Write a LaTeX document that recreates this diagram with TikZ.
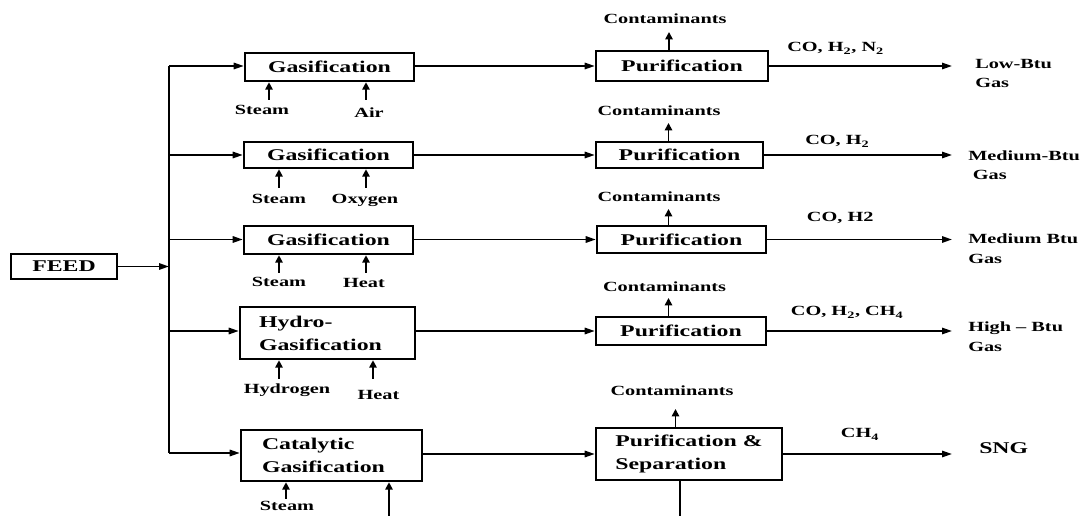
\documentclass[tikz,border=0pt]{standalone}
\usepackage{fontspec}
\setmainfont{Liberation Serif}[FakeStretch=1.45]
\usetikzlibrary{arrows.meta}

\begin{document}
\begin{tikzpicture}[x=0.75pt,y=-0.75pt,
  box/.style={draw, line width=1.9pt, inner sep=0pt, align=center,
    font=\fontsize{12.3}{17.25}\selectfont\bfseries},
  lbl/.style={inner sep=0pt, font=\fontsize{10.5}{14.5}\selectfont\bfseries},
  prod/.style={lbl, align=left, anchor=north west},
  flow/.style={line width=1.3pt, -{Triangle[length=7.5pt,width=4.8pt]}},
  feedarr/.style={line width=1.3pt, -{Triangle[length=5.5pt,width=5.5pt]}},
  plain/.style={line width=1.3pt},
  busline/.style={line width=1.8pt}]

\useasboundingbox (0,0) rectangle (1082,516);

% feed and distribution bus
\node[box, minimum width=79.5pt, minimum height=18.75pt] (feed) at (64,266.5) {FEED};
\coordinate (b0) at (169,266.5);
\coordinate (b1) at (169,66);
\coordinate (b2) at (169,155);
\coordinate (b3) at (169,239.5);
\coordinate (b4) at (169,331);
\coordinate (b5) at (169,453);
\draw[busline] (b1) -- (b5);
\draw[flow] (feed) -- (b0);

% gasifiers
\node[box, minimum width=126.75pt, minimum height=21pt] (g1) at (329.5,67) {Gasification};
\node[box, minimum width=126.75pt, minimum height=19.5pt] (g2) at (328.5,155) {Gasification};
\node[box, minimum width=126.75pt, minimum height=21pt] (g3) at (328.5,240) {Gasification};
\node[box, align=left, text width=102.75pt, inner xsep=14.25pt, minimum height=39pt] (g4) at (327.5,333) {Hydro-\\Gasification};
\node[box, align=left, text width=104.25pt, inner xsep=15.75pt, minimum height=38.25pt] (g5) at (331.5,455.5) {Catalytic\\Gasification};

% purification units
\node[box, minimum width=129pt, minimum height=22.5pt] (p1) at (682,66) {Purification};
\node[box, minimum width=125.25pt, minimum height=19.5pt] (p2) at (679.5,155) {Purification};
\node[box, minimum width=126.75pt, minimum height=20.25pt] (p3) at (681.5,239.5) {Purification};
\node[box, minimum width=127.5pt, minimum height=21pt] (p4) at (681,331) {Purification};
\node[box, align=left, minimum width=139.5pt, minimum height=39pt] (p5) at (689,454) {Purification \&\\Separation};

% bus to gasifiers
\foreach \i in {1,...,5} {
  \draw[flow] (b\i) -- (g\i.west |- b\i);
  \draw[flow] (g\i.east |- p\i) -- (p\i.west);
}

% feed streams into the gasifiers
\node[lbl, anchor=base] (st1) at (262,114.5) {Steam};
\node[lbl, anchor=base] (air1) at (369,117.5) {Air};
\node[lbl, anchor=base] (st2) at (279,203.5) {Steam};
\node[lbl, anchor=base] (ox2) at (365,203.5) {Oxygen};
\node[lbl, anchor=base] (st3) at (279,286.5) {Steam};
\node[lbl, anchor=base] (ht3) at (364,287.5) {Heat};
\node[lbl, anchor=base] (hy4) at (287,394) {Hydrogen};
\node[lbl, anchor=base] (ht4) at (378.5,399.7) {Heat};
\node[lbl, anchor=base] (st5) at (287,511) {Steam};

\coordinate (i1a) at (269,100);  \coordinate (i1b) at (366,100);
\coordinate (i2a) at (279,188);  \coordinate (i2b) at (366,188);
\coordinate (i3a) at (279,273);  \coordinate (i3b) at (366,273);
\coordinate (i4a) at (279,379);  \coordinate (i4b) at (373,379);
\coordinate (i5a) at (286,499);  \coordinate (i5b) at (389,516);
\foreach \i in {1,...,5} {
  \draw[feedarr] (i\i a) -- (i\i a |- g\i.south);
  \draw[feedarr] (i\i b) -- (i\i b |- g\i.south);
}

% contaminants removed
\node[lbl, anchor=base] (c1) at (665,23.5) {Contaminants};
\node[lbl, anchor=base] (c2) at (659,116) {Contaminants};
\node[lbl, anchor=base] (c3) at (659,202) {Contaminants};
\node[lbl, anchor=base] (c4) at (664.5,292) {Contaminants};
\node[lbl, anchor=base] (c5) at (672,396) {Contaminants};
\coordinate (k1) at (669,32);
\coordinate (k2) at (668.5,123);
\coordinate (k3) at (668.5,209);
\coordinate (k4) at (668.5,298);
\coordinate (k5) at (675.5,409);
\foreach \i in {1,...,5} {
  \draw[feedarr] (k\i |- p\i.north) -- (k\i);
}

% product streams
\coordinate (o1) at (952,66);
\coordinate (o2) at (952,155);
\coordinate (o3) at (952,239.5);
\coordinate (o4) at (952,331);
\coordinate (o5) at (952,454);
\foreach \i in {1,...,5} {
  \draw[flow] (p\i.east |- o\i) -- (o\i);
}
\coordinate (sep) at (680,516);
\draw[plain] (sep |- p5.south) -- (sep);

\node[lbl, anchor=base west] (m1) at (787,52) {CO, H\textsubscript{2}, N\textsubscript{2}};
\node[lbl, anchor=base west] (m2) at (805,145) {CO, H\textsubscript{2}};
\node[lbl, anchor=base west] (m3) at (806.7,221.7) {CO, H2};
\node[lbl, anchor=base west] (m4) at (790.6,316) {CO, H\textsubscript{2}, CH\textsubscript{4}};
\node[lbl, anchor=base west] (m5) at (840.7,438) {CH\textsubscript{4}};

\node[prod] (q1) at (975,58.9) {Low-Btu\\Gas};
\node[prod] (q2) at (968,150.4) {Medium-Btu\\\hspace*{3.5pt}Gas};
\node[prod] (q3) at (968,233.7) {Medium Btu\\Gas};
\node[prod] (q4) at (968,322) {High -- Btu\\Gas};
\node[lbl, anchor=base west, font=\fontsize{12.3}{17.25}\selectfont\bfseries] (q5) at (979,453.5) {SNG};

\end{tikzpicture}
\end{document}
